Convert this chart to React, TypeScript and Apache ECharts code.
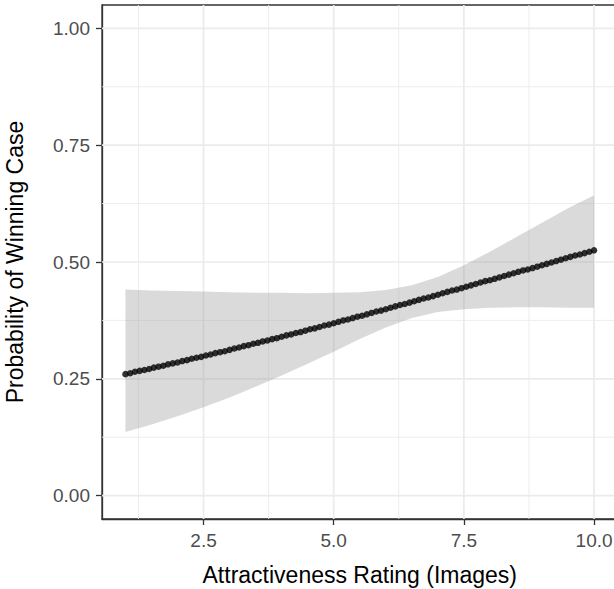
import React, { useEffect, useRef } from "react";
import * as echarts from "echarts";

// Fitted probability (dots), x positions
const pointX = [
  1.0, 1.091, 1.182, 1.273, 1.364, 1.455, 1.545, 1.636, 1.727, 1.818, 1.909,
  2.0, 2.091, 2.182, 2.273, 2.364, 2.455, 2.545, 2.636, 2.727, 2.818, 2.909,
  3.0, 3.091, 3.182, 3.273, 3.364, 3.455, 3.545, 3.636, 3.727, 3.818, 3.909,
  4.0, 4.091, 4.182, 4.273, 4.364, 4.455, 4.545, 4.636, 4.727, 4.818, 4.909,
  5.0, 5.091, 5.182, 5.273, 5.364, 5.455, 5.545, 5.636, 5.727, 5.818, 5.909,
  6.0, 6.091, 6.182, 6.273, 6.364, 6.455, 6.545, 6.636, 6.727, 6.818, 6.909,
  7.0, 7.091, 7.182, 7.273, 7.364, 7.455, 7.545, 7.636, 7.727, 7.818, 7.909,
  8.0, 8.091, 8.182, 8.273, 8.364, 8.455, 8.545, 8.636, 8.727, 8.818, 8.909,
  9.0, 9.091, 9.182, 9.273, 9.364, 9.455, 9.545, 9.636, 9.727, 9.818, 9.909,
  10.0,
];
const pointY = [
  0.26, 0.262, 0.265, 0.267, 0.269, 0.271, 0.274, 0.276, 0.278, 0.281,
  0.283, 0.285, 0.288, 0.29, 0.293, 0.295, 0.297, 0.3, 0.302, 0.305,
  0.307, 0.309, 0.312, 0.315, 0.317, 0.32, 0.322, 0.325, 0.327, 0.33,
  0.332, 0.335, 0.337, 0.34, 0.343, 0.345, 0.348, 0.35, 0.353, 0.356,
  0.358, 0.361, 0.364, 0.366, 0.369, 0.372, 0.375, 0.377, 0.38, 0.383,
  0.385, 0.388, 0.391, 0.394, 0.396, 0.399, 0.402, 0.405, 0.408, 0.41,
  0.413, 0.416, 0.419, 0.422, 0.424, 0.427, 0.43, 0.433, 0.436, 0.439,
  0.441, 0.444, 0.447, 0.45, 0.453, 0.456, 0.459, 0.461, 0.464, 0.467,
  0.47, 0.473, 0.476, 0.479, 0.482, 0.484, 0.487, 0.49, 0.493, 0.496,
  0.499, 0.502, 0.505, 0.508, 0.511, 0.514, 0.516, 0.519, 0.522, 0.525,
];

// Confidence band
const bandX = [1, 1.5, 2, 2.5, 3, 3.5, 4, 4.5, 5, 5.5, 6, 6.5, 7, 7.5, 8, 8.5, 9, 9.5, 10];
const bandUpper = [
  0.441, 0.439, 0.438, 0.437, 0.435, 0.434, 0.434, 0.433, 0.434, 0.435,
  0.44, 0.45, 0.468, 0.493, 0.522, 0.553, 0.584, 0.615, 0.643,
];
const bandLower = [
  0.136, 0.152, 0.17, 0.189, 0.21, 0.233, 0.257, 0.282, 0.308, 0.335,
  0.36, 0.38, 0.393, 0.399, 0.402, 0.403, 0.403, 0.402, 0.402,
];

// Axes
const xMajor = [2.5, 5.0, 7.5, 10.0];
const xMinor = [1.25, 3.75, 6.25, 8.75];
const yMajor = [0, 0.25, 0.5, 0.75, 1.0];
const yMinor = [0.125, 0.375, 0.625, 0.875];
const xRange = [0.55, 10.45];
const yRange = [-0.05, 1.05];

const FONT = "'Liberation Sans', Arial, Helvetica, sans-serif";

export default function App() {
  const ref = useRef<HTMLDivElement>(null);
  useEffect(() => {
    if (!ref.current) return;
    const chart = echarts.init(ref.current, undefined, { renderer: "svg" });
    const gridColor = "#ebebeb";
    const option: any = {
      animation: false,
      backgroundColor: "#ffffff",
      textStyle: { fontFamily: FONT },
      grid: {
        left: 102,
        top: 5,
        width: 515.5,
        height: 514,
        containLabel: false,
        outerBoundsMode: "none",
        show: true,
        borderColor: "#333333",
        borderWidth: 1.3,
        backgroundColor: "transparent",
      },
      xAxis: {
        type: "value",
        min: xRange[0],
        max: xRange[1],
        splitLine: { show: false },
        axisLine: { show: true, onZero: false, lineStyle: { color: "#333333", width: 1.3 } },
        axisTick: { show: true, length: 6, customValues: xMajor, lineStyle: { color: "#333333", width: 1.3 } },
        axisLabel: {
          customValues: xMajor,
          formatter: (v: number) => v.toFixed(1),
          color: "#4d4d4d",
          fontSize: 19,
          margin: 12,
          fontFamily: FONT,
        },
        name: "Attractiveness Rating (Images)",
        nameLocation: "middle",
        nameGap: 44,
        nameMoveOverlap: false,
        nameTextStyle: { fontSize: 23, color: "#000000", fontFamily: FONT },
      },
      yAxis: {
        type: "value",
        min: yRange[0],
        max: yRange[1],
        splitLine: { show: false },
        axisLine: { show: true, onZero: false, lineStyle: { color: "#333333", width: 1.3 } },
        axisTick: { show: true, length: 6, customValues: yMajor, lineStyle: { color: "#333333", width: 1.3 } },
        axisLabel: {
          customValues: yMajor,
          formatter: (v: number) => v.toFixed(2),
          color: "#4d4d4d",
          fontSize: 19,
          margin: 12,
          fontFamily: FONT,
        },
        name: "Probability of Winning Case",
        nameLocation: "middle",
        nameGap: 76,
        nameRotate: 90,
        nameMoveOverlap: false,
        nameTextStyle: { fontSize: 23, color: "#000000", fontFamily: FONT },
      },
      series: [
        {
          type: "custom",
          z: 1,
          silent: true,
          clip: true,
          data: [[xRange[0], yRange[0]]],
          renderItem: (_params: any, api: any) => {
            const children: any[] = [];
            const vLine = (x: number, w: number) => {
              const a = api.coord([x, yRange[0]]);
              const b = api.coord([x, yRange[1]]);
              children.push({
                type: "line",
                shape: { x1: a[0], y1: a[1], x2: b[0], y2: b[1] },
                style: { stroke: gridColor, lineWidth: w },
              });
            };
            const hLine = (y: number, w: number) => {
              const a = api.coord([xRange[0], y]);
              const b = api.coord([xRange[1], y]);
              children.push({
                type: "line",
                shape: { x1: a[0], y1: a[1], x2: b[0], y2: b[1] },
                style: { stroke: gridColor, lineWidth: w },
              });
            };
            xMinor.forEach((x) => vLine(x, 0.9));
            yMinor.forEach((y) => hLine(y, 0.9));
            xMajor.forEach((x) => vLine(x, 1.7));
            yMajor.forEach((y) => hLine(y, 1.7));
            return { type: "group", children };
          },
        },
        {
          type: "custom",
          z: 2,
          silent: true,
          clip: true,
          data: [[bandX[0], bandUpper[0]]],
          renderItem: (_params: any, api: any) => {
            const up = bandX.map((x, i) => api.coord([x, bandUpper[i]]));
            const lo = bandX.map((x, i) => api.coord([x, bandLower[i]])).reverse();
            return {
              type: "polygon",
              shape: { points: up.concat(lo) },
              style: { fill: "rgba(153,153,153,0.36)" },
            };
          },
        },
        {
          type: "scatter",
          z: 3,
          silent: true,
          symbol: "circle",
          symbolSize: 6.5,
          itemStyle: { color: "#000000" },
          data: pointX.map((x, i) => [x, pointY[i]]),
        },
      ],
    };
    chart.setOption(option);
    return () => chart.dispose();
  }, []);
  return (
    <div
      ref={ref}
      style={{ position: "absolute", left: 0, top: 0, width: 614, height: 589, background: "#fff" }}
    />
  );
}
